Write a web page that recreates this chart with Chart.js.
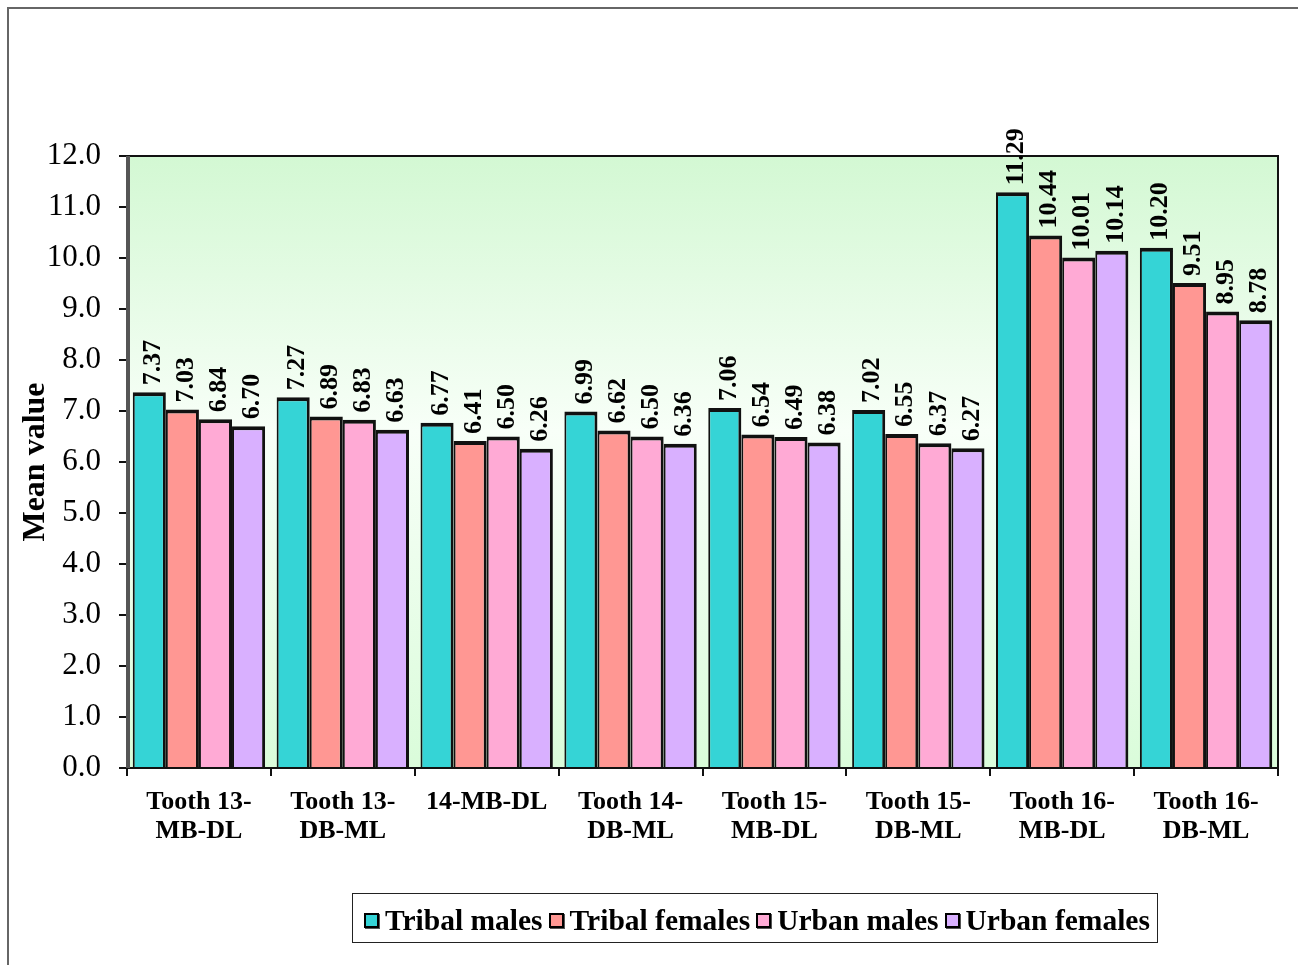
<!DOCTYPE html>
<html>
<head>
<meta charset="utf-8">
<script src="https://cdn.jsdelivr.net/npm/chart.js@4.4.1/dist/chart.umd.min.js"></script>
<style>
  html, body { margin: 0; padding: 0; background: #fff; }
  .wrap { position: relative; width: 1298px; height: 965px; overflow: hidden; }
  .frame { position: absolute; left: 7px; top: 7px; width: 1400px; height: 1000px;
           border-top: 2px solid #666; border-left: 2px solid #666; }
  canvas { position: absolute; left: 0; top: 0; }
  .legend { position: absolute; left: 352px; top: 893px; width: 806px; height: 50px;
            border: 1px solid #222; display: flex; align-items: center; padding: 5px 0 0 11px;
            box-sizing: border-box; font: bold 29.5px "Liberation Serif", "Times New Roman", serif; color: #000;
            white-space: nowrap; overflow: hidden; }
  .legend .item { display: flex; align-items: center; margin-right: 6px; }
  .legend .sw { width: 11px; height: 11px; border: 2px solid #000; margin-right: 6px; box-shadow: 1px 1px 0 #555; }
</style>
</head>
<body>
<div class="wrap">
  <div class="frame"></div>
  <canvas id="chart" width="1298" height="965"></canvas>
  <div class="legend" id="legend"></div>
</div>
<script>
const categories = [
  ['Tooth 13-', 'MB-DL'], ['Tooth 13-', 'DB-ML'], '14-MB-DL', ['Tooth 14-', 'DB-ML'],
  ['Tooth 15-', 'MB-DL'], ['Tooth 15-', 'DB-ML'], ['Tooth 16-', 'MB-DL'], ['Tooth 16-', 'DB-ML']
];
const tribalMales   = [7.37, 7.27, 6.77, 6.99, 7.06, 7.02, 11.29, 10.20];
const tribalFemales = [7.03, 6.89, 6.41, 6.62, 6.54, 6.55, 10.44, 9.51];
const urbanMales    = [6.84, 6.83, 6.50, 6.50, 6.49, 6.37, 10.01, 8.95];
const urbanFemales  = [6.70, 6.63, 6.26, 6.36, 6.38, 6.27, 10.14, 8.78];
const seriesNames = ['Tribal males', 'Tribal females', 'Urban males', 'Urban females'];
const seriesColors = ['#35d4d6', '#ff9793', '#ffaad5', '#d9b0ff'];

const serif = '"Liberation Serif", "Times New Roman", serif';

// gradient background + border of the plot area
const plotBg = {
  id: 'plotBg',
  beforeDatasetsDraw(chart) {
    const { ctx, chartArea: a } = chart;
    const g = ctx.createLinearGradient(0, a.top, 0, a.bottom);
    g.addColorStop(0, '#d3f8d3');
    g.addColorStop(0.45, '#f8fff8');
    g.addColorStop(1, '#dafcda');
    ctx.save();
    ctx.fillStyle = g;
    ctx.fillRect(a.left, a.top, a.right - a.left, a.bottom - a.top);
    ctx.restore();
  },
  afterDatasetsDraw(chart) {
    const { ctx, chartArea: a } = chart;
    ctx.save();
    ctx.strokeStyle = '#111';
    ctx.lineWidth = 2;
    ctx.strokeRect(a.left, a.top, a.right - a.left, a.bottom - a.top);
    ctx.fillStyle = '#555';
    ctx.fillRect(a.left - 1, a.top, 4, a.bottom - a.top);
    ctx.restore();
  }
};

// rotated value labels above each bar
const valueLabels = {
  id: 'valueLabels',
  afterDatasetsDraw(chart) {
    const { ctx } = chart;
    ctx.save();
    ctx.font = 'bold 26px ' + serif;
    ctx.fillStyle = '#000';
    ctx.textAlign = 'left';
    ctx.textBaseline = 'middle';
    chart.data.datasets.forEach((ds, i) => {
      chart.getDatasetMeta(i).data.forEach((bar, j) => {
        ctx.save();
        ctx.translate(bar.x + 4, bar.y - 7);
        ctx.rotate(-Math.PI / 2);
        ctx.fillText(ds.data[j].toFixed(2), 0, 0);
        ctx.restore();
      });
    });
    ctx.restore();
  }
};

const seriesData = [tribalMales, tribalFemales, urbanMales, urbanFemales];

new Chart(document.getElementById('chart'), {
  type: 'bar',
  data: {
    labels: categories,
    datasets: seriesData.map((d, i) => ({
      label: seriesNames[i],
      data: d,
      backgroundColor: seriesColors[i],
      borderColor: '#111',
      borderWidth: { top: 4, left: 2, right: 3, bottom: 0 },
      borderSkipped: false,
      categoryPercentage: 0.92,
      barPercentage: 1.0
    }))
  },
  options: {
    responsive: false,
    animation: false,
    layout: { padding: { top: 156, right: 20, bottom: 117, left: 0 } },
    plugins: { legend: { display: false }, tooltip: { enabled: false } },
    scales: {
      x: {
        grid: { drawOnChartArea: false, color: '#111', tickLength: 8, lineWidth: 2 },
        border: { color: '#111', width: 2 },
        ticks: { color: '#000', font: { family: serif, size: 26, weight: 'bold', lineHeight: 1.12 }, padding: 12, maxRotation: 0 },
        afterFit(scale) { scale.height = 80; }
      },
      y: {
        min: 0, max: 12,
        grid: { drawOnChartArea: false, color: '#111', tickLength: 8, lineWidth: 2 },
        border: { color: '#111', width: 2 },
        ticks: { stepSize: 1, color: '#000', padding: 18,
                 font: { family: serif, size: 31 },
                 callback: v => v.toFixed(1) },
        title: { display: true, text: 'Mean value', color: '#000',
                 font: { family: serif, size: 32, weight: 'bold' }, padding: { top: 17, bottom: 0 } },
        afterFit(scale) { scale.width = 127; }
      }
    }
  },
  plugins: [plotBg, valueLabels]
});

const legend = document.getElementById('legend');
seriesNames.forEach((name, i) => {
  const it = document.createElement('span');
  it.className = 'item';
  const sw = document.createElement('span');
  sw.className = 'sw';
  sw.style.background = seriesColors[i];
  it.appendChild(sw);
  it.appendChild(document.createTextNode(name));
  legend.appendChild(it);
});
</script>
</body>
</html>
